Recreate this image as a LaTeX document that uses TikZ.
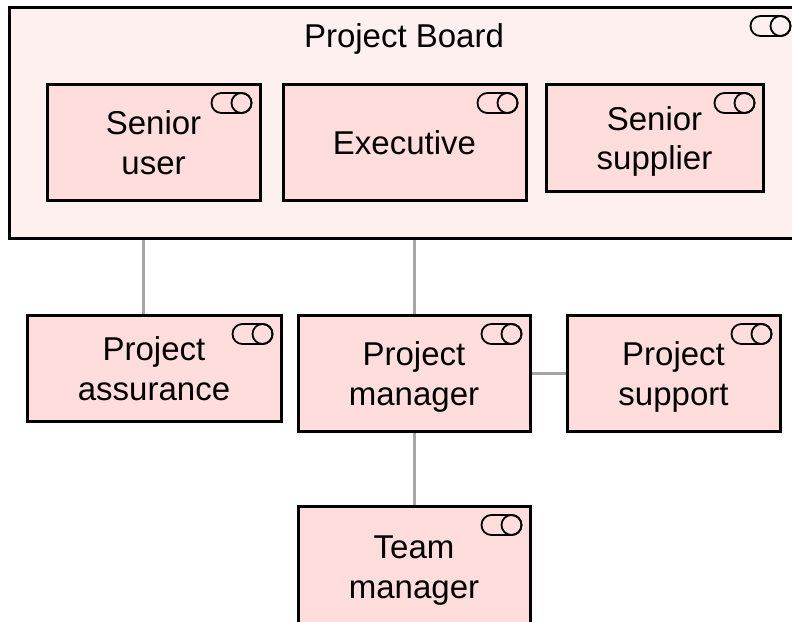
\documentclass[tikz,border=0pt]{standalone}
\usepackage{fontspec}
\setmainfont{Liberation Sans}
\usepackage{color}
\usepackage{tikz}

\definecolor{roleFill}{HTML}{FFDDDD}
\definecolor{boardFill}{HTML}{FFF0F0}
\definecolor{linkGray}{HTML}{A6A6A6}

\tikzset{
    rolebox/.style={draw=black, line width=3pt, fill=roleFill, inner sep=0pt, align=center,
        font=\fontsize{33}{39.5}\selectfont,
        execute at begin node={\rule{0pt}{#1pt}},
        execute at end node={\rule[-8pt]{0pt}{8pt}}},
    rolebox/.default=72,
    boardbox/.style={draw=black, line width=3pt, fill=boardFill, inner sep=0pt},
    titletext/.style={inner sep=0pt, font=\fontsize{33}{39.5}\selectfont},
    link/.style={draw=linkGray, line width=3pt},
    toggleicon/.pic={
        \draw[line width=1.8pt, rounded corners=9.9pt] (-50, 10.5) rectangle (-10, 30.5);
        \draw[line width=1.8pt] (-20, 20.5) circle (10pt);
    }
}

\begin{document}
\begin{tikzpicture}[x=1pt, y=-1pt]
    \useasboundingbox (0, 0) rectangle (792, 621);
    \clip (0, 0) rectangle (792, 621);

    \node[boardbox, minimum width=790pt, minimum height=231pt] (board) at (404, 122.5) {};
    \node[titletext] (boardtitle) at (404, 39) {Project Board};
    \pic at (board.north east) {toggleicon};

    \node[rolebox, minimum width=213pt, minimum height=116pt] (senioruser) at (153.5, 142) {Senior\\user};
    \node[rolebox=32, minimum width=243pt, minimum height=116pt] (executive) at (404.5, 142) {Executive};
    \node[rolebox, minimum width=217pt, minimum height=107pt] (seniorsupplier) at (654.5, 137.5) {Senior\\supplier};
    \pic at (senioruser.north east) {toggleicon};
    \pic at (executive.north east) {toggleicon};
    \pic at (seniorsupplier.north east) {toggleicon};

    \node[rolebox, minimum width=254pt, minimum height=106pt] (assurance) at (154, 368) {Project\\assurance};
    \node[rolebox, minimum width=232pt, minimum height=116pt] (manager) at (414, 373) {Project\\manager};
    \node[rolebox, minimum width=213pt, minimum height=116pt] (support) at (673.5, 373) {Project\\support};
    \node[rolebox, minimum width=232pt, minimum height=120pt] (team) at (414, 566) {Team\\manager};
    \pic at (assurance.north east) {toggleicon};
    \pic at (manager.north east) {toggleicon};
    \pic at (support.north east) {toggleicon};
    \pic at (team.north east) {toggleicon};

    \coordinate (assurancelink) at (143, 280);
    \draw[link] (board.south -| assurancelink) -- (assurance.north -| assurancelink);
    \draw[link] (board.south -| manager.north) -- (manager.north);
    \draw[link] (manager.east) -- (support.west);
    \draw[link] (manager.south) -- (team.north);
\end{tikzpicture}
\end{document}
